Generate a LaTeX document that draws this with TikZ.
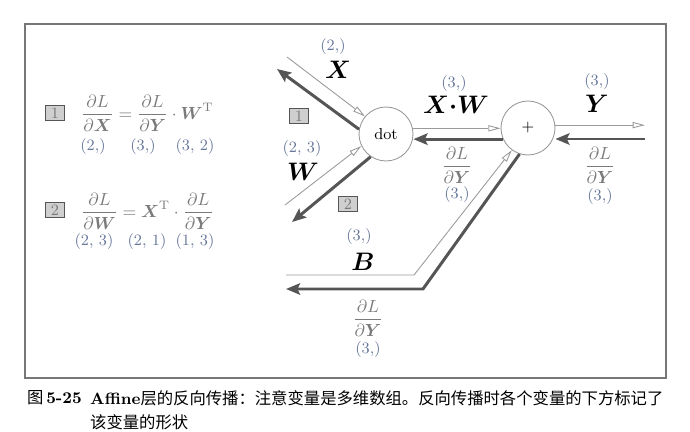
\documentclass[tikz,border=0pt]{standalone}
\usepackage{amsmath}
\usepackage{fontspec}
\newfontfamily\cjk{Noto Sans CJK SC}
\usetikzlibrary{arrows.meta}

\begin{document}
\begin{tikzpicture}[x=0.02cm, y=-0.02cm, >=Stealth,
  fwd/.style={draw=Fwd, line width=.5pt, -{Triangle[open, length=7pt, width=3.5pt]}},
  bwd/.style={draw=Bwd, line width=1.7pt, -{Stealth[length=8pt, width=6.5pt, inset=1.5pt]}},
  op/.style={circle, draw=Fwd, line width=.5pt, minimum size=1.08cm, inner sep=0pt, font=\small},
  numbox/.style={draw=Bwd, fill=BoxFill, line width=1pt, minimum width=.38cm, minimum height=.3cm, inner sep=0pt, text=Grey, font=\small},
  dims/.style={text=Dim, font=\small, inner sep=1pt},
  grad/.style={text=Grey},
  vec/.style={font=\Large, inner sep=1pt}]
\definecolor{Fwd}{HTML}{9A9A9A}\definecolor{Bwd}{HTML}{555555}\definecolor{BoxFill}{HTML}{CFCFCF}\definecolor{Grey}{HTML}{7A7A7A}\definecolor{Dim}{HTML}{66769A}\definecolor{Frame}{HTML}{777777}
\useasboundingbox (0,0) rectangle (690,432);
\draw[Frame, line width=1pt] (25,24) rectangle (666,378);
% left: the two gradient formulas with their shapes
\node[numbox] (b1) at (55,113) {1};
\node[grad, anchor=west] (eq1) at (75,113) {$\dfrac{\partial L}{\partial\boldsymbol X} = \dfrac{\partial L}{\partial\boldsymbol Y}\cdot\boldsymbol W^{\mathrm T}$};
\node[dims] (eq1a) at (93,147) {(2,)}; \node[dims] (eq1b) at (143,147) {(3,)}; \node[dims] (eq1c) at (195,147) {(3, 2)};
\node[numbox] (b2) at (55,210) {2};
\node[grad, anchor=west] (eq2) at (75,211) {$\dfrac{\partial L}{\partial\boldsymbol W} = \boldsymbol X^{\mathrm T}\cdot\dfrac{\partial L}{\partial\boldsymbol Y}$};
\node[dims] (eq2a) at (94,242) {(2, 3)}; \node[dims] (eq2b) at (147,242) {(2, 1)}; \node[dims] (eq2c) at (195,242) {(1, 3)};
% right: the graph
\node[op] (dot) at (386,134) {dot};
\node[op] (add) at (528,128) {$+$};
\coordinate (xin) at (287,57); \coordinate (xout) at (277,69); \coordinate (win) at (285,205); \coordinate (wout) at (292,222);
\coordinate (yout) at (645,125); \coordinate (yin) at (645,139);
\coordinate (bin) at (286,275); \coordinate (bend) at (414,275); \coordinate (bknee) at (423,289); \coordinate (bout) at (286,289);
\draw[fwd] (xin) -- (dot.140); \draw[bwd] (dot.170) -- (xout);
\draw[fwd] (win) -- (dot.206); \draw[bwd] (dot.236) -- (wout);
\draw[fwd] (dot.12) -- (dot.12 -| add.west); \draw[bwd] (add.204) -- (add.204 -| dot.east);
\draw[fwd] (add.6) -- (add.6 -| yout); \draw[bwd] (yin) -- (yin -| add.east);
\draw[fwd] (bin) -- (bend) -- (add.234); \draw[bwd] (add.252) -- (bknee) -- (bout);
\node[numbox] (b1r) at (299,116) {1}; \node[numbox] (b2r) at (348,204) {2};
\node[dims] (xdim) at (333,47) {(2,)}; \node[vec] (xlab) at (338,70) {$\boldsymbol X$};
\node[dims] (wdim) at (302,149) {(2, 3)}; \node[vec] (wlab) at (303,172) {$\boldsymbol W$};
\node[dims] (xwdim) at (454,84) {(3,)}; \node[vec] (xwlab) at (456,105) {$\boldsymbol X{\boldsymbol\cdot}\boldsymbol W$};
\node[grad] (g1) at (457,165) {$\dfrac{\partial L}{\partial\boldsymbol Y}$}; \node[dims] (g1dim) at (457,195) {(3,)};
\node[dims] (ydim) at (597,82) {(3,)}; \node[vec] (ylab) at (597,104) {$\boldsymbol Y$};
\node[grad] (g2) at (600,165) {$\dfrac{\partial L}{\partial\boldsymbol Y}$}; \node[dims] (g2dim) at (600,197) {(3,)};
\node[dims] (bdim) at (359,237) {(3,)}; \node[vec] (blab) at (363,262) {$\boldsymbol B$};
\node[grad] (g3) at (368,318) {$\dfrac{\partial L}{\partial\boldsymbol Y}$}; \node[dims] (g3dim) at (368,350) {(3,)};
% caption
\node[anchor=west, font=\fontsize{9.3}{11}\selectfont\bfseries] (fignum) at (21,398) {{\cjk\mdseries 图}\,5-25};
\node[anchor=west, font=\fontsize{9.3}{11}\selectfont] (cap1) at (84,398) {\textbf{Affine}{\cjk 层的反向传播：注意变量是多维数组。反向传播时各个变量的下方标记了}};
\node[anchor=west, font=\fontsize{9.3}{11}\selectfont] (cap2) at (84,422) {\cjk 该变量的形状};
\end{tikzpicture}
\end{document}
